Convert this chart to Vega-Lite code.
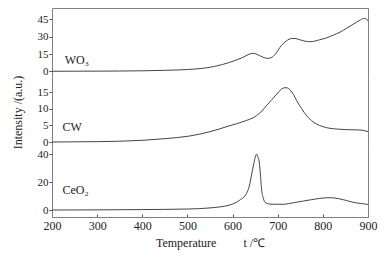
{
  "$schema": "https://vega.github.io/schema/vega-lite/v6.json",
  "padding": {"left": 11, "top": 8, "right": 5, "bottom": 5},
  "background": "white",
  "bounds": "flush",
  "spacing": 0,
  "config": {
    "view": {"stroke": null},
    "font": "Liberation Serif",
    "axis": {
      "labelFont": "Liberation Serif",
      "titleFont": "Liberation Serif",
      "labelFontSize": 12,
      "titleFontSize": 12,
      "titleFontWeight": "normal",
      "labelColor": "#222",
      "titleColor": "#222",
      "domainColor": "#808080",
      "tickColor": "#555",
      "grid": false
    },
    "axisY": {"labelFontSize": 11},
    "text": {"font": "Liberation Serif", "fontSize": 12, "color": "#222"},
    "line": {"color": "#444", "strokeWidth": 1}
  },
  "datasets": {
    "wo3": [
      {"t": 200, "v": 0}, {"t": 250, "v": 0.05}, {"t": 300, "v": 0.1}, {"t": 350, "v": 0.2},
      {"t": 400, "v": 0.4}, {"t": 450, "v": 0.8}, {"t": 500, "v": 1.5}, {"t": 530, "v": 2.4},
      {"t": 560, "v": 4.2}, {"t": 594, "v": 7.8}, {"t": 623, "v": 12.1}, {"t": 637, "v": 14.9},
      {"t": 645, "v": 15.6}, {"t": 652, "v": 15.0}, {"t": 660, "v": 13.6}, {"t": 670, "v": 11.8},
      {"t": 679, "v": 11.2}, {"t": 688, "v": 12.3}, {"t": 697, "v": 16.0}, {"t": 705, "v": 20.8},
      {"t": 712, "v": 24.0}, {"t": 720, "v": 26.6}, {"t": 730, "v": 28.4}, {"t": 738, "v": 28.5},
      {"t": 749, "v": 27.4}, {"t": 760, "v": 26.2}, {"t": 771, "v": 25.7}, {"t": 782, "v": 26.2},
      {"t": 793, "v": 27.4}, {"t": 808, "v": 29.0}, {"t": 823, "v": 31.4}, {"t": 838, "v": 34.0},
      {"t": 853, "v": 37.5}, {"t": 868, "v": 41.0}, {"t": 882, "v": 44.4}, {"t": 890, "v": 45.8},
      {"t": 895, "v": 45.8}, {"t": 900, "v": 43.5}
    ],
    "cw": [
      {"t": 200, "v": 0}, {"t": 300, "v": 0.1}, {"t": 400, "v": 0.5}, {"t": 450, "v": 1.0},
      {"t": 505, "v": 1.8}, {"t": 550, "v": 3.1}, {"t": 594, "v": 4.9}, {"t": 623, "v": 6.1},
      {"t": 653, "v": 7.9}, {"t": 665, "v": 9.3}, {"t": 675, "v": 10.9}, {"t": 687, "v": 12.7},
      {"t": 698, "v": 14.4}, {"t": 708, "v": 15.8}, {"t": 716, "v": 16.3}, {"t": 722, "v": 16.2},
      {"t": 727, "v": 15.7}, {"t": 735, "v": 14.2}, {"t": 742, "v": 12.4}, {"t": 753, "v": 10.0},
      {"t": 764, "v": 7.9}, {"t": 775, "v": 6.4}, {"t": 786, "v": 5.4}, {"t": 800, "v": 4.6},
      {"t": 816, "v": 4.1}, {"t": 835, "v": 3.85}, {"t": 853, "v": 3.7}, {"t": 870, "v": 3.65},
      {"t": 882, "v": 3.6}, {"t": 892, "v": 3.4}, {"t": 900, "v": 3.1}
    ],
    "ceo2": [
      {"t": 200, "v": 0}, {"t": 300, "v": 0.1}, {"t": 400, "v": 0.3}, {"t": 500, "v": 0.7},
      {"t": 550, "v": 1.5}, {"t": 594, "v": 3.6}, {"t": 616, "v": 7.1}, {"t": 631, "v": 11.9},
      {"t": 637, "v": 17.0}, {"t": 642, "v": 25.0}, {"t": 647, "v": 33.0}, {"t": 651, "v": 38.5},
      {"t": 653, "v": 39.8}, {"t": 656, "v": 38.0}, {"t": 659, "v": 34.5}, {"t": 662, "v": 24.0},
      {"t": 664, "v": 15.5}, {"t": 668, "v": 8.5}, {"t": 672, "v": 5.5}, {"t": 680, "v": 4.4},
      {"t": 690, "v": 4.1}, {"t": 712, "v": 4.1}, {"t": 735, "v": 5.2}, {"t": 757, "v": 6.4},
      {"t": 775, "v": 7.4}, {"t": 793, "v": 8.3}, {"t": 816, "v": 8.8}, {"t": 838, "v": 7.9},
      {"t": 852, "v": 6.8}, {"t": 867, "v": 5.5}, {"t": 883, "v": 4.7}, {"t": 897, "v": 4.1},
      {"t": 900, "v": 3.9}
    ]
  },
  "vconcat": [
    {
      "width": 316,
      "height": 69,
      "layer": [
        {
          "data": {"name": "wo3"},
          "mark": {"type": "line", "interpolate": "monotone"},
          "encoding": {
            "x": {"field": "t", "type": "quantitative", "scale": {"domain": [200, 900]},
                  "axis": {"orient": "top", "labels": false, "ticks": false, "title": null}},
            "y": {"field": "v", "type": "quantitative", "scale": {"domain": [-5, 55]},
                  "axis": {"values": [0, 15, 30, 45], "title": null, "tickSize": 3, "labelPadding": 1}}
          }
        },
        {
          "data": {"values": [{"t": 228, "v": 9.5, "label": "WO₃"}]},
          "mark": {"type": "text", "align": "left", "baseline": "middle"},
          "encoding": {
            "x": {"field": "t", "type": "quantitative", "scale": {"domain": [200, 900]},
                  "axis": {"orient": "top", "labels": false, "ticks": false, "title": null}},
            "y": {"field": "v", "type": "quantitative", "scale": {"domain": [-5, 55]},
                  "axis": {"orient": "right", "labels": false, "ticks": false, "title": null}},
            "text": {"field": "label"}
          }
        }
      ],
      "resolve": {"axis": {"y": "independent"}}
    },
    {
      "width": 316,
      "height": 70,
      "layer": [
        {
          "data": {"name": "cw"},
          "mark": {"type": "line", "interpolate": "monotone"},
          "encoding": {
            "x": {"field": "t", "type": "quantitative", "scale": {"domain": [200, 900]}, "axis": null},
            "y": {"field": "v", "type": "quantitative", "scale": {"domain": [-1.5, 19.5]},
                  "axis": {"values": [0, 5, 10, 15], "title": "Intensity /(a.u.)", "tickSize": 3, "labelPadding": 1, "titlePadding": 13}}
          }
        },
        {
          "data": {"values": [{"t": 223, "v": 4.6, "label": "CW"}]},
          "mark": {"type": "text", "align": "left", "baseline": "middle"},
          "encoding": {
            "x": {"field": "t", "type": "quantitative", "scale": {"domain": [200, 900]}, "axis": null},
            "y": {"field": "v", "type": "quantitative", "scale": {"domain": [-1.5, 19.5]},
                  "axis": {"orient": "right", "labels": false, "ticks": false, "title": null}},
            "text": {"field": "label"}
          }
        }
      ],
      "resolve": {"axis": {"y": "independent"}}
    },
    {
      "width": 316,
      "height": 70,
      "layer": [
        {
          "data": {"name": "ceo2"},
          "mark": {"type": "line", "interpolate": "monotone"},
          "encoding": {
            "x": {"field": "t", "type": "quantitative", "scale": {"domain": [200, 900]},
                  "axis": {"values": [200, 250, 300, 350, 400, 450, 500, 550, 600, 650, 700, 750, 800, 850, 900],
                           "labelExpr": "datum.value % 100 === 0 ? datum.label : ''",
                           "tickSize": -3, "labelPadding": 6, "labelFlush": false,
                           "title": "Temperature\u00a0\u00a0\u00a0\u00a0\u00a0\u00a0\u00a0\u00a0\u00a0t /℃", "titlePadding": 6}},
            "y": {"field": "v", "type": "quantitative", "scale": {"domain": [-5, 45]},
                  "axis": {"values": [0, 20, 40], "title": null, "tickSize": 3, "labelPadding": 1}}
          }
        },
        {
          "data": {"values": [{"t": 223, "v": 14, "label": "CeO₂"}]},
          "mark": {"type": "text", "align": "left", "baseline": "middle"},
          "encoding": {
            "x": {"field": "t", "type": "quantitative", "scale": {"domain": [200, 900]}},
            "y": {"field": "v", "type": "quantitative", "scale": {"domain": [-5, 45]},
                  "axis": {"orient": "right", "labels": false, "ticks": false, "title": null}},
            "text": {"field": "label"}
          }
        }
      ],
      "resolve": {"axis": {"y": "independent"}}
    }
  ]
}
